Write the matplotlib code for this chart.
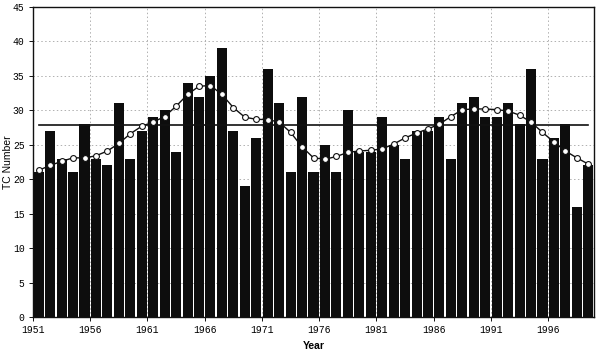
import matplotlib
matplotlib.use("Agg")
import matplotlib.pyplot as plt
import numpy as np

years = list(range(1951, 2000))
tc_counts = [21, 27, 23, 21, 28, 23, 22, 31, 23, 27,
             29, 30, 24, 34, 32, 35, 39, 27, 19, 26,
             36, 31, 21, 32, 21, 25, 21, 30, 24, 24,
             29, 25, 23, 27, 27, 29, 23, 31, 32, 29,
             29, 31, 28, 36, 23, 26, 28, 16, 22]
smoothed = [21.3, 22.0, 22.6, 23.1, 23.1, 23.4, 24.1, 25.2, 26.6, 27.7,
            28.3, 29.1, 30.6, 32.3, 33.5, 33.6, 32.3, 30.4, 29.0, 28.7,
            28.65, 28.3, 26.8, 24.7, 23.1, 22.9, 23.3, 23.9, 24.1, 24.2,
            24.4, 25.1, 26.0, 26.7, 27.3, 28.0, 29.1, 30.1, 30.2, 30.2,
            30.1, 29.9, 29.3, 28.3, 26.8, 25.4, 24.1, 23.1, 22.2]
mean_level = 27.8
tick_years = [1951, 1956, 1961, 1966, 1971, 1976, 1981, 1986, 1991, 1996]
y_ticks = [0, 5, 10, 15, 20, 25, 30, 35, 40, 45]

fig = plt.figure(figsize=(6.0, 3.52), dpi=100)
ax = fig.add_axes([0.055, 0.0994, 0.935, 0.8807])

x = np.array(years, dtype=float)
ax.set_axisbelow(True)
ax.grid(True, color='#b0b0b0', linestyle=(0, (1.5, 2.5)), linewidth=0.7)
ax.bar(x, tc_counts, width=0.88, color='#0d0d0d', edgecolor='none', zorder=2)
ax.plot([x[0], x[-1]], [mean_level, mean_level], color='#111111', linewidth=1.2, zorder=3)
ax.plot(x, smoothed, color='#111111', linewidth=1.0, marker='o', markersize=4.2,
        markerfacecolor='white', markeredgecolor='#111111', markeredgewidth=0.8, zorder=4)

ax.set_xlim(x[0] - 0.5, x[-1] + 0.5)
ax.set_ylim(0, 45)
ax.set_xticks([t - 0.5 for t in tick_years])
ax.set_xticklabels([str(t) for t in tick_years], family='Liberation Mono', fontsize=7)
ax.set_yticks(y_ticks)
ax.set_yticklabels([str(t) for t in y_ticks], family='Liberation Mono', fontsize=7)
ax.tick_params(axis='both', length=3, width=0.7, color='#111111', pad=3)
for s in ax.spines.values():
    s.set_color('#111111')
    s.set_linewidth(1.0)

ax.set_xlabel('Year', family='Liberation Sans', fontsize=7.5, fontweight='bold', labelpad=4)
ax.set_ylabel('TC Number', family='Liberation Sans', fontsize=7.5)
ax.yaxis.set_label_coords(-0.035, 0.5)

fig.savefig('out.png', dpi=100)
